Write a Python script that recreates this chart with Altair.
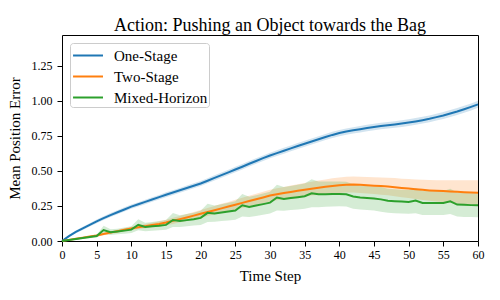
import altair as alt
import pandas as pd

steps = list(range(61))
series_names = ["One-Stage", "Two-Stage", "Mixed-Horizon"]
colors = ["#1f77b4", "#ff7f0e", "#2ca02c"]

one_stage = [0.0, 0.035, 0.065, 0.09, 0.115, 0.14, 0.163, 0.185, 0.205, 0.225,
             0.245, 0.262, 0.279, 0.296, 0.313, 0.33, 0.346, 0.362, 0.378, 0.394,
             0.41, 0.43, 0.45, 0.47, 0.49, 0.51, 0.53, 0.551, 0.571, 0.591,
             0.61, 0.627, 0.644, 0.661, 0.678, 0.694, 0.71, 0.726, 0.742, 0.757,
             0.77, 0.781, 0.79, 0.798, 0.806, 0.813, 0.82, 0.826, 0.832, 0.838,
             0.845, 0.853, 0.862, 0.872, 0.884, 0.896, 0.91, 0.924, 0.94, 0.957,
             0.975]
one_stage_hw = [0.004, 0.008, 0.01, 0.011, 0.012, 0.013, 0.013, 0.014, 0.014, 0.015,
                0.015, 0.015, 0.016, 0.016, 0.016, 0.017, 0.017, 0.017, 0.018, 0.018,
                0.018, 0.018, 0.019, 0.019, 0.019, 0.019, 0.02, 0.02, 0.02, 0.02,
                0.02, 0.02, 0.021, 0.021, 0.021, 0.021, 0.021, 0.022, 0.022, 0.022,
                0.022, 0.022, 0.022, 0.023, 0.023, 0.023, 0.023, 0.023, 0.023, 0.024,
                0.024, 0.024, 0.024, 0.024, 0.024, 0.025, 0.025, 0.025, 0.025, 0.025,
                0.025]

two_stage = [0.0, 0.008, 0.016, 0.024, 0.032, 0.04, 0.05, 0.06, 0.07, 0.08,
             0.09, 0.098, 0.106, 0.114, 0.122, 0.132, 0.144, 0.156, 0.168, 0.181,
             0.194, 0.207, 0.22, 0.233, 0.246, 0.259, 0.272, 0.285, 0.298, 0.311,
             0.324, 0.333, 0.342, 0.35, 0.358, 0.366, 0.373, 0.38, 0.387, 0.393,
             0.398, 0.402, 0.403, 0.401, 0.398, 0.395, 0.392, 0.389, 0.384, 0.379,
             0.374, 0.369, 0.365, 0.361, 0.358, 0.356, 0.354, 0.351, 0.348, 0.346,
             0.344]
two_stage_hw = [0.0, 0.002, 0.003, 0.004, 0.006, 0.008, 0.009, 0.01, 0.011, 0.011,
                0.012, 0.013, 0.015, 0.016, 0.018, 0.02, 0.022, 0.023, 0.025, 0.026,
                0.028, 0.029, 0.03, 0.032, 0.033, 0.035, 0.036, 0.038, 0.039, 0.041,
                0.042, 0.043, 0.044, 0.046, 0.047, 0.048, 0.049, 0.051, 0.052, 0.054,
                0.055, 0.056, 0.057, 0.058, 0.059, 0.06, 0.062, 0.063, 0.065, 0.066,
                0.068, 0.07, 0.072, 0.074, 0.076, 0.078, 0.08, 0.083, 0.085, 0.088,
                0.09]

mixed_horizon = [0.0, 0.007, 0.014, 0.021, 0.028, 0.035, 0.078, 0.063, 0.068, 0.074,
                 0.081, 0.116, 0.1, 0.105, 0.109, 0.115, 0.15, 0.142, 0.149, 0.156,
                 0.165, 0.201, 0.196, 0.203, 0.21, 0.217, 0.255, 0.243, 0.253, 0.263,
                 0.274, 0.31, 0.3, 0.307, 0.313, 0.32, 0.341, 0.333, 0.334, 0.335,
                 0.336, 0.334, 0.318, 0.311, 0.307, 0.303, 0.297, 0.287, 0.284, 0.281,
                 0.279, 0.288, 0.272, 0.271, 0.271, 0.271, 0.283, 0.26, 0.258, 0.256,
                 0.255]
mixed_horizon_hw = [0.0, 0.003, 0.005, 0.007, 0.008, 0.01, 0.03, 0.02, 0.02, 0.022,
                    0.024, 0.04, 0.03, 0.031, 0.033, 0.035, 0.05, 0.042, 0.044, 0.046,
                    0.05, 0.065, 0.058, 0.06, 0.063, 0.066, 0.08, 0.072, 0.074, 0.076,
                    0.078, 0.092, 0.085, 0.086, 0.088, 0.09, 0.1, 0.092, 0.09, 0.089,
                    0.088, 0.088, 0.087, 0.087, 0.086, 0.086, 0.088, 0.086, 0.086, 0.085,
                    0.085, 0.09, 0.086, 0.086, 0.086, 0.086, 0.09, 0.086, 0.086, 0.085,
                    0.085]

rows = []
for name, vals, hws in zip(series_names,
                           [one_stage, two_stage, mixed_horizon],
                           [one_stage_hw, two_stage_hw, mixed_horizon_hw]):
    for s, v, h in zip(steps, vals, hws):
        rows.append({"step": s, "series": name, "mean": v,
                     "lo": v - h, "hi": v + h})
df = pd.DataFrame(rows)

FONT = "Liberation Serif"

color = alt.Color(
    "series:N",
    scale=alt.Scale(domain=series_names, range=colors),
    sort=series_names,
    legend=alt.Legend(
        title=None,
        orient="none",
        legendX=8,
        legendY=8,
        symbolType="M-0.9,0H1.95",
        symbolSize=441,
        symbolStrokeWidth=2,
        symbolOpacity=1,
        rowPadding=1,
        labelOffset=20,
        labelFont=FONT,
        labelFontSize=15,
        labelColor="black",
        padding=1,
        fillColor="rgba(255,255,255,0.8)",
        strokeColor="#cccccc",
        cornerRadius=3,
    ),
)

xenc = alt.X(
    "step:Q",
    scale=alt.Scale(domain=[0, 60], nice=False, zero=False),
    axis=alt.Axis(values=list(range(0, 61, 5)), title="Time Step",
                  labelFlush=False),
)
yenc = alt.Y(
    "mean:Q",
    scale=alt.Scale(domain=[0, 1.47], nice=False),
    axis=alt.Axis(values=[0, 0.25, 0.5, 0.75, 1.0, 1.25], format=".2f",
                  title="Mean Position Error", labelFlush=False),
)

base = alt.Chart(df)

bands = base.mark_area(opacity=0.2).encode(
    x=xenc,
    y=alt.Y("lo:Q", scale=alt.Scale(domain=[0, 1.47], nice=False)),
    y2="hi:Q",
    color=color,
    detail="series:N",
)

lines = base.mark_line(strokeWidth=2).encode(
    x=xenc,
    y=yenc,
    color=color,
    order="step:Q",
)

chart = alt.layer(bands, lines).properties(
    width=416,
    height=206,
    title=alt.TitleParams(
        "Action: Pushing an Object towards the Bag",
        font=FONT, fontSize=18, fontWeight="normal", color="black",
        anchor="middle", baseline="alphabetic", offset=7, frame="group",
        dy=21,
    ),
    autosize=alt.AutoSizeParams(type="none"),
    padding={"left": 54, "top": 27, "right": 14, "bottom": 51},
).configure_view(
    stroke="black", strokeWidth=1,
).configure_axis(
    grid=False,
    domain=False,
    tickColor="black",
    tickSize=5,
    tickWidth=1,
    labelFont=FONT,
    labelFontSize=12,
    labelColor="black",
    titleFont=FONT,
    titleFontSize=15,
    titleFontWeight="normal",
    titleColor="black",
).configure_axisX(
    labelPadding=3,
    titlePadding=8,
).configure_axisY(
    labelPadding=5,
    titlePadding=9,
).configure_legend(
    labelFont=FONT,
    labelFontSize=15,
    labelColor="black",
)

chart.save("out.html", embed_options={"renderer": "svg", "actions": False})
